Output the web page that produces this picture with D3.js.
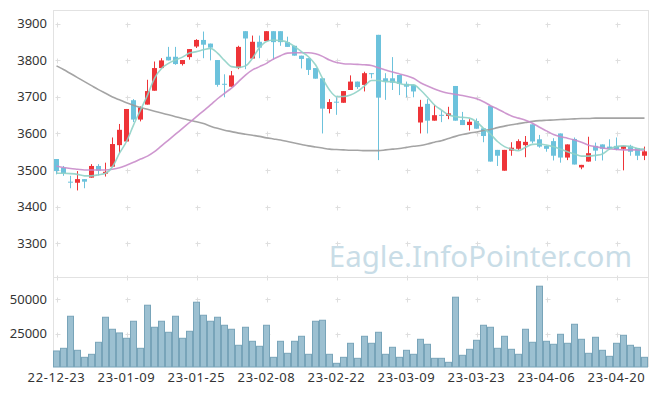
<!DOCTYPE html>
<html>
<head>
<meta charset="utf-8">
<script src="https://cdn.jsdelivr.net/npm/d3@7"></script>
<style>
  html, body { margin: 0; padding: 0; background: #fff; }
  svg { display: block; font-family: "Noto Sans", "DejaVu Sans", sans-serif; }
</style>
</head>
<body>
<svg id="chart" width="657" height="396"></svg>
<script>
const dates = [
  '22-12-23', '22-12-26', '22-12-27', '22-12-28', '22-12-29',
  '23-01-02', '23-01-03', '23-01-04', '23-01-05', '23-01-06',
  '23-01-09', '23-01-10', '23-01-11', '23-01-12', '23-01-13',
  '23-01-16', '23-01-17', '23-01-18', '23-01-19', '23-01-20',
  '23-01-25', '23-01-26', '23-01-27', '23-01-30', '23-01-31',
  '23-02-01', '23-02-02', '23-02-03', '23-02-06', '23-02-07',
  '23-02-08', '23-02-09', '23-02-10', '23-02-13', '23-02-14',
  '23-02-15', '23-02-16', '23-02-17', '23-02-20', '23-02-21',
  '23-02-22', '23-02-23', '23-02-24', '23-02-27', '23-02-28',
  '23-03-02', '23-03-03', '23-03-06', '23-03-07', '23-03-08',
  '23-03-09', '23-03-10', '23-03-13', '23-03-14', '23-03-15',
  '23-03-16', '23-03-17', '23-03-20', '23-03-21', '23-03-22',
  '23-03-23', '23-03-24', '23-03-27', '23-03-28', '23-03-29',
  '23-03-30', '23-03-31', '23-04-03', '23-04-04', '23-04-05',
  '23-04-06', '23-04-07', '23-04-10', '23-04-11', '23-04-12',
  '23-04-13', '23-04-14', '23-04-17', '23-04-18', '23-04-19',
  '23-04-20', '23-04-21', '23-04-24', '23-04-25', '23-04-26',
];

const xTickLabels = ['22-12-23', '23-01-09', '23-01-25', '23-02-08', '23-02-22', '23-03-09', '23-03-23', '23-04-06', '23-04-20'];
const priceTicks = [3300, 3400, 3500, 3600, 3700, 3800, 3900];
const volumeTicks = [25000, 50000];

const openPrices = [
  3530, 3506, 3468, 3465, 3475, 3479, 3511, 3490, 3509, 3568,
  3578, 3691, 3638, 3679, 3717, 3779, 3810, 3810, 3790, 3809,
  3838, 3856, 3846, 3801, 3736, 3728, 3779, 3880, 3805, 3851,
  3853, 3880, 3880, 3850, 3840, 3813, 3806, 3779, 3751, 3667,
  3687, 3684, 3719, 3742, 3733, 3765, 3870, 3751, 3751, 3760,
  3736, 3733, 3630, 3681, 3635, 3651, 3648, 3730, 3637, 3623,
  3634, 3614, 3675, 3555, 3498, 3553, 3558, 3568, 3625, 3584,
  3566, 3579, 3600, 3534, 3585, 3507, 3523, 3566, 3570, 3564,
  3566, 3558, 3566, 3560, 3539,
];
const closePrices = [
  3497, 3491, 3466, 3475, 3468, 3511, 3498, 3495, 3571, 3610,
  3667, 3638, 3671, 3716, 3779, 3800, 3800, 3790, 3801, 3831,
  3856, 3843, 3835, 3733, 3734, 3759, 3837, 3860, 3851, 3835,
  3880, 3850, 3850, 3837, 3813, 3804, 3774, 3750, 3668, 3686,
  3686, 3716, 3742, 3727, 3765, 3764, 3698, 3742, 3739, 3736,
  3728, 3715, 3673, 3635, 3650, 3650, 3655, 3635, 3623, 3632,
  3613, 3593, 3523, 3539, 3555, 3561, 3579, 3577, 3578, 3564,
  3558, 3539, 3534, 3570, 3515, 3514, 3546, 3553, 3558, 3558,
  3557, 3566, 3550, 3539, 3551,
];
const highPrices = [
  3530, 3511, 3484, 3497, 3475, 3516, 3516, 3520, 3589, 3626,
  3667, 3694, 3674, 3747, 3797, 3806, 3837, 3837, 3801, 3831,
  3858, 3879, 3846, 3801, 3762, 3771, 3840, 3880, 3868, 3868,
  3880, 3880, 3880, 3865, 3840, 3813, 3806, 3779, 3751, 3694,
  3699, 3716, 3759, 3742, 3769, 3765, 3870, 3765, 3809, 3760,
  3742, 3733, 3692, 3694, 3678, 3664, 3673, 3730, 3659, 3639,
  3641, 3614, 3675, 3555, 3555, 3576, 3584, 3593, 3625, 3596,
  3566, 3587, 3600, 3570, 3589, 3514, 3591, 3575, 3570, 3584,
  3589, 3566, 3569, 3560, 3564,
];
const lowPrices = [
  3488, 3484, 3450, 3444, 3450, 3479, 3485, 3482, 3509, 3546,
  3578, 3631, 3633, 3679, 3717, 3779, 3800, 3788, 3786, 3802,
  3834, 3806, 3800, 3728, 3699, 3728, 3776, 3776, 3805, 3806,
  3853, 3802, 3840, 3837, 3813, 3778, 3760, 3750, 3600, 3655,
  3651, 3684, 3719, 3722, 3715, 3751, 3527, 3692, 3719, 3705,
  3699, 3699, 3600, 3600, 3635, 3631, 3639, 3635, 3623, 3608,
  3613, 3576, 3523, 3511, 3498, 3539, 3555, 3535, 3573, 3561,
  3550, 3526, 3520, 3527, 3515, 3502, 3523, 3525, 3526, 3555,
  3554, 3499, 3539, 3527, 3527,
];
const volumes = [
  12740, 14660, 37740, 13220, 8170, 10340, 18990, 37020, 28370, 25720,
  21880, 34140, 14660, 45680, 29810, 34140, 26200, 37740, 21880, 26920,
  47840, 38460, 34140, 37020, 31250, 28370, 16830, 29810, 19710, 16110,
  31250, 8170, 19710, 11060, 19710, 23320, 10340, 34140, 34860, 10340,
  3850, 8170, 18270, 7450, 23320, 18270, 26200, 10340, 15390, 8170,
  13220, 10340, 21150, 17550, 7450, 7450, 4570, 51450, 9620, 13940,
  20430, 31250, 29810, 14660, 23320, 13940, 10340, 28370, 18990, 59380,
  19710, 17550, 24760, 18270, 31970, 21150, 11060, 22600, 13220, 8890,
  18270, 24040, 16830, 15390, 8170,
];
const ma5 = [
  3491, 3491, 3490, 3488, 3484, 3484, 3487, 3491, 3509, 3546,
  3578, 3623, 3664, 3705, 3751, 3778, 3792, 3801, 3809, 3820,
  3824, 3829, 3833, 3820, 3800, 3783, 3781, 3785, 3806, 3835,
  3852, 3856, 3854, 3850, 3838, 3824, 3810, 3788, 3751, 3719,
  3701, 3701, 3705, 3715, 3730, 3745, 3745, 3742, 3742, 3737,
  3733, 3733, 3719, 3699, 3678, 3664, 3651, 3646, 3644, 3642,
  3632, 3614, 3598, 3578, 3564, 3557, 3553, 3562, 3570, 3571,
  3568, 3564, 3557, 3550, 3544, 3538, 3538, 3540, 3544, 3557,
  3564, 3566, 3564, 3559, 3557,
];
const ma20 = [
  3511, 3507, 3504, 3502, 3500, 3500, 3500, 3500, 3502, 3506,
  3513, 3521, 3530, 3538, 3550, 3566, 3582, 3598, 3614, 3630,
  3646, 3662, 3678, 3695, 3710, 3724, 3742, 3760, 3774, 3783,
  3792, 3804, 3813, 3820, 3821, 3821, 3821, 3818, 3811, 3801,
  3794, 3791, 3790, 3789, 3788, 3786, 3780, 3774, 3768, 3763,
  3758, 3751, 3739, 3730, 3722, 3715, 3710, 3707, 3704, 3700,
  3695, 3687, 3676, 3667, 3657, 3648, 3642, 3636, 3628, 3617,
  3607, 3597, 3591, 3587, 3582, 3576, 3568, 3564, 3560, 3558,
  3556, 3555, 3555, 3555, 3555,
];
const ma60 = [
  3785, 3775, 3764, 3753, 3742, 3731, 3720, 3710, 3700, 3692,
  3684, 3677, 3671, 3666, 3661, 3656, 3651, 3646, 3641, 3636,
  3632, 3627, 3620, 3614, 3609, 3605, 3601, 3598, 3595, 3592,
  3588, 3585, 3582, 3578, 3574, 3570, 3566, 3563, 3560, 3557,
  3556, 3555, 3554, 3554, 3553, 3553, 3553, 3555, 3557, 3559,
  3562, 3565, 3567, 3571, 3576, 3580, 3586, 3592, 3597, 3601,
  3604, 3608, 3611, 3616, 3620, 3624, 3627, 3630, 3633, 3635,
  3636, 3637, 3638, 3639, 3640, 3641, 3641, 3642, 3642, 3642,
  3642, 3642, 3642, 3642, 3642,
];

const plot = { left: 53, right: 648, top: 10, split: 277, bottom: 367 };
const upColor = '#ee3438';
const downColor = '#6cc2dc';
const gridColor = '#dedede';

const svg = d3.select('#chart');

const x = d3.scaleBand().domain(dates).range([plot.left, plot.right]);
const xCenter = (d) => x(d) + x.bandwidth() / 2;
const y = d3.scaleLinear().domain([3207, 3938]).range([plot.split, plot.top]);
const yVol = d3.scaleLinear().domain([1200, 66000]).range([plot.bottom, plot.split]);

// watermark sits behind everything
svg.append('text')
  .attr('x', 632)
  .attr('y', 267)
  .attr('text-anchor', 'end')
  .attr('font-size', 29.5)
  .attr('fill', '#c9dde7')
  .text('Eagle.InfoPointer.com');

// small "+" marks at grid crossings
const crossRows = priceTicks.map(y).concat(volumeTicks.map(yVol), [plot.split]);
const crossCols = xTickLabels.map(xCenter);
const crosses = svg.append('g').attr('stroke', gridColor).attr('stroke-width', 1);
crossCols.forEach((cx) => {
  crossRows.forEach((cy) => {
    const px = Math.round(cx) + 0.5;
    const py = Math.round(cy) + 0.5;
    crosses.append('line').attr('x1', px - 2).attr('x2', px + 3).attr('y1', py).attr('y2', py);
    crosses.append('line').attr('x1', px).attr('x2', px).attr('y1', py - 2).attr('y2', py + 3);
  });
});

// frame
const frame = svg.append('g').attr('stroke', '#e2e2e2').attr('fill', 'none');
frame.append('line').attr('x1', plot.left + 0.5).attr('x2', plot.left + 0.5).attr('y1', plot.top).attr('y2', plot.bottom);
frame.append('line').attr('x1', plot.right + 0.5).attr('x2', plot.right + 0.5).attr('y1', plot.top).attr('y2', plot.bottom);
frame.append('line').attr('x1', plot.left).attr('x2', plot.right).attr('y1', plot.top + 0.5).attr('y2', plot.top + 0.5);
frame.append('line').attr('x1', plot.left).attr('x2', plot.right).attr('y1', plot.split + 0.5).attr('y2', plot.split + 0.5);

// volume bars
svg.append('g')
  .selectAll('rect')
  .data(dates)
  .join('rect')
  .attr('x', (d) => x(d) + 0.5)
  .attr('width', x.bandwidth() - 1)
  .attr('y', (d, i) => yVol(volumes[i]))
  .attr('height', (d, i) => plot.bottom - yVol(volumes[i]))
  .attr('fill', '#9cc0d1')
  .attr('stroke', '#78a4b9')
  .attr('stroke-width', 1);

// candles
const candles = svg.append('g')
  .selectAll('g')
  .data(dates)
  .join('g')
  .attr('fill', (d, i) => (closePrices[i] >= openPrices[i] ? upColor : downColor))
  .attr('stroke', (d, i) => (closePrices[i] >= openPrices[i] ? upColor : downColor));

candles.append('line')
  .attr('x1', (d) => Math.floor(xCenter(d)) + 0.5)
  .attr('x2', (d) => Math.floor(xCenter(d)) + 0.5)
  .attr('y1', (d, i) => y(highPrices[i]))
  .attr('y2', (d, i) => y(lowPrices[i]))
  .attr('stroke-width', 1);

candles.append('rect')
  .attr('x', (d) => Math.floor(xCenter(d)) - 2)
  .attr('width', 5)
  .attr('y', (d, i) => y(Math.max(openPrices[i], closePrices[i])))
  .attr('height', (d, i) => Math.max(1, Math.abs(y(openPrices[i]) - y(closePrices[i]))))
  .attr('stroke', 'none');

// moving averages
const maLine = (values) => d3.line()
  .x((d) => xCenter(d))
  .y((d, i) => y(values[i]))
  .curve(d3.curveMonotoneX)(dates);

[[ma60, '#9a9a9a'], [ma20, '#c98cca'], [ma5, '#8fd2c6']].forEach(([values, color]) => {
  svg.append('path')
    .attr('d', maLine(values))
    .attr('fill', 'none')
    .attr('stroke', color)
    .attr('stroke-width', 1.6)
    .attr('stroke-opacity', 0.9);
});

// axis labels
const labels = svg.append('g').attr('fill', '#333').attr('font-size', 13);

labels.selectAll('.price')
  .data(priceTicks)
  .join('text')
  .attr('x', plot.left - 6)
  .attr('y', (d) => y(d))
  .attr('dy', '0.35em')
  .attr('text-anchor', 'end')
  .text((d) => d);

labels.selectAll('.vol')
  .data(volumeTicks)
  .join('text')
  .attr('x', plot.left - 6)
  .attr('y', (d) => yVol(d))
  .attr('dy', '0.35em')
  .attr('text-anchor', 'end')
  .text((d) => d);

labels.selectAll('.date')
  .data(xTickLabels)
  .join('text')
  .attr('x', (d) => xCenter(d))
  .attr('y', 382)
  .attr('text-anchor', 'middle')
  .attr('letter-spacing', 0.6)
  .text((d) => d);
</script>
</body>
</html>
